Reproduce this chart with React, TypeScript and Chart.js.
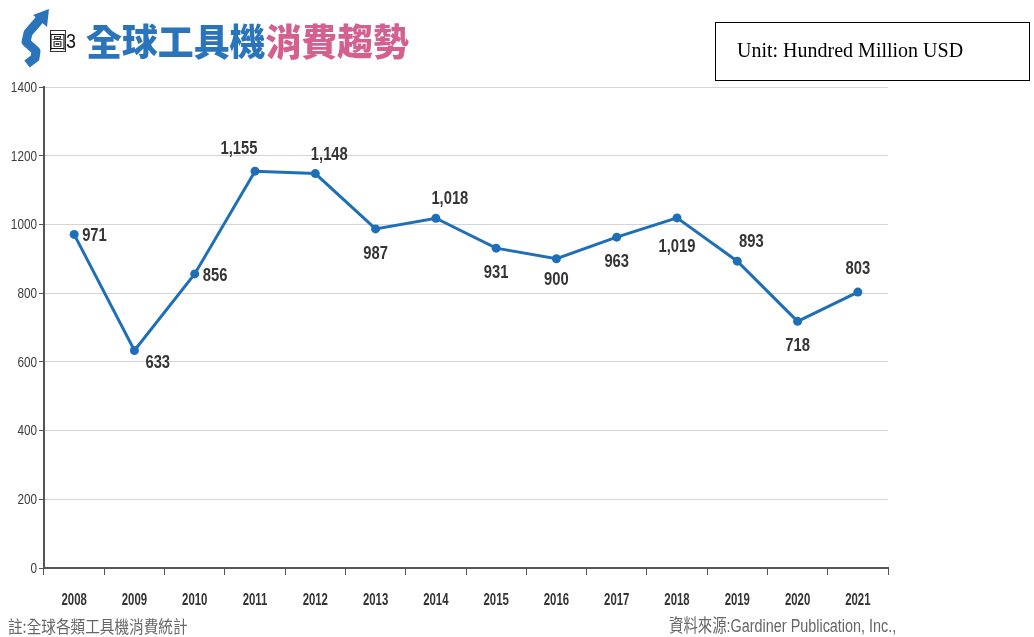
import React, { useEffect, useRef } from "react";
import { Chart, registerables } from "chart.js";

Chart.register(...registerables);

const years = ["2008", "2009", "2010", "2011", "2012", "2013", "2014", "2015", "2016", "2017", "2018", "2019", "2020", "2021"];
const consumption = [971, 633, 856, 1155, 1148, 987, 1018, 931, 900, 963, 1019, 893, 718, 803];
const yTickValues = [0, 200, 400, 600, 800, 1000, 1200, 1400];
const labelPlacement = ["right", "belowRight", "right", "aboveLeft", "aboveRight", "below", "aboveRight", "below", "belowNear", "below", "belowFar", "aboveRight", "below", "above"];

const titleBlue = "全球工具機";
const titlePink = "消費趨勢";
const unitText = "Unit: Hundred Million USD";
const noteText = "註:全球各類工具機消費統計";
const sourceText = "資料來源:Gardiner Publication, Inc.,";

const SANS = "'Liberation Sans', Arial, sans-serif";
const CJK = "'Noto Sans CJK TC', sans-serif";

const placementStyle: Record<string, [number, number, CanvasTextAlign]> = {
  right: [8, 2, "left"],
  belowRight: [11, 13, "left"],
  aboveLeft: [-16, -22, "center"],
  aboveRight: [14, -19, "center"],
  below: [0, 25, "center"],
  belowNear: [0, 21, "center"],
  belowFar: [0, 29, "center"],
  above: [0, -23, "center"],
};

function narrowText(ctx: CanvasRenderingContext2D, text: string, x: number, y: number, align: CanvasTextAlign, sx: number) {
  ctx.save();
  ctx.translate(x, y);
  ctx.scale(sx, 1);
  ctx.textAlign = align;
  ctx.fillText(text, 0, 0);
  ctx.restore();
}

const valueLabels = {
  id: "valueLabels",
  afterDatasetsDraw(chart: any) {
    const ctx = chart.ctx;
    const meta = chart.getDatasetMeta(0);
    ctx.save();
    ctx.font = `bold 18px ${SANS}`;
    ctx.fillStyle = "#353535";
    ctx.textBaseline = "middle";
    meta.data.forEach((pt: any, i: number) => {
      const [dx, dy, align] = placementStyle[labelPlacement[i]] || placementStyle.above;
      narrowText(ctx, consumption[i].toLocaleString("en-US"), pt.x + dx, pt.y + dy, align, 0.82);
    });
    ctx.restore();
  },
};

const narrowTicks = {
  id: "narrowTicks",
  afterDraw(chart: any) {
    const ctx = chart.ctx;
    const xs = chart.scales.x;
    const ys = chart.scales.y;
    ctx.save();
    ctx.textBaseline = "middle";
    ctx.font = `bold 16px ${SANS}`;
    ctx.fillStyle = "#333333";
    xs.ticks.forEach((t: any, i: number) => {
      narrowText(ctx, String(xs.getLabelForValue(t.value)), xs.getPixelForTick(i), xs.top + 33, "center", 0.71);
    });
    ctx.font = `14px ${SANS}`;
    ctx.fillStyle = "#3c3c3c";
    ys.ticks.forEach((t: any, i: number) => {
      narrowText(ctx, String(t.value), ys.right - 7, ys.getPixelForTick(i) + 1, "right", 0.84);
    });
    ctx.restore();
  },
};

function ChartCanvas() {
  const ref = useRef<HTMLCanvasElement | null>(null);
  useEffect(() => {
    if (!ref.current) return;
    const chart = new Chart(ref.current, {
      type: "line",
      data: {
        labels: years,
        datasets: [
          {
            data: consumption,
            borderColor: "#1f6fb8",
            backgroundColor: "#1f6fb8",
            borderWidth: 3,
            pointRadius: 4.5,
            pointBackgroundColor: "#1f6fb8",
            pointBorderWidth: 0,
            tension: 0,
          },
        ],
      },
      options: {
        animation: false,
        responsive: false,
        maintainAspectRatio: false,
        devicePixelRatio: 1,
        layout: { padding: { top: 87, right: 146, left: 0, bottom: 0 } },
        plugins: { legend: { display: false }, tooltip: { enabled: false }, title: { display: false } },
        scales: {
          x: {
            offset: true,
            grid: { display: true, drawOnChartArea: false, drawTicks: true, tickLength: 7, tickColor: "#555555", offset: true },
            border: { display: true, color: "#555555", width: 2 },
            ticks: { color: "rgba(0,0,0,0)", font: { family: SANS, size: 14, weight: "bold" }, padding: 20, maxRotation: 0, autoSkip: false },
            afterFit: (scale: any) => {
              scale.height = 69;
            },
          },
          y: {
            min: 0,
            max: 1400,
            afterBuildTicks: (scale: any) => {
              scale.ticks = yTickValues.map((v) => ({ value: v }));
            },
            grid: { color: "#d4d4d4", lineWidth: 1, tickLength: 5, tickColor: "#555555" },
            border: { display: true, color: "#555555", width: 2 },
            ticks: { color: "rgba(0,0,0,0)", font: { family: SANS, size: 12 }, padding: 3, callback: (v: any) => String(v) },
            afterFit: (scale: any) => {
              scale.width = 44;
            },
          },
        },
      },
      plugins: [valueLabels, narrowTicks],
    });
    return () => chart.destroy();
  }, []);
  return <canvas ref={ref} width={1034} height={637} style={{ position: "absolute", left: 0, top: 0, width: 1034, height: 637 }} />;
}

export default function App() {
  return (
    <div style={{ position: "fixed", left: 0, top: 0, width: 1034, height: 637, background: "#ffffff", overflow: "hidden" }}>
      <ChartCanvas />
      <svg width={60} height={72} style={{ position: "absolute", left: 0, top: 0 }} viewBox="0 0 60 72">
        <path d="M41 18 L28 33 L26 42 L36 51 L35 58 L27 64" fill="none" stroke="#2a74bb" strokeWidth={9} strokeLinejoin="round" strokeLinecap="butt" />
        <polygon points="49,9 47,27 33,15" fill="#2a74bb" />
      </svg>
      <div style={{ position: "absolute", left: 50, top: 30, width: 16, height: 22, border: "1px solid #333", boxSizing: "border-box" }} />
      <div style={{ position: "absolute", left: 49, top: 29, fontFamily: CJK, fontSize: 17, color: "#111", lineHeight: "24px", whiteSpace: "nowrap" }}>
        圖<span style={{ fontFamily: SANS, fontSize: 21, display: "inline-block", transform: "scaleX(0.85)", transformOrigin: "left center" }}>3</span>
      </div>
      <div style={{ position: "absolute", left: 86, top: 12, fontFamily: CJK, fontWeight: 900, fontSize: 37, lineHeight: "56px", whiteSpace: "nowrap", transform: "scaleX(0.97)", transformOrigin: "left top" }}>
        <span style={{ color: "#2a74bb" }}>{titleBlue}</span>
        <span style={{ color: "#d4608f" }}>{titlePink}</span>
      </div>
      <div
        style={{
          position: "absolute",
          left: 715,
          top: 22,
          width: 315,
          height: 59,
          border: "1px solid #000",
          fontFamily: "'Liberation Serif', 'Times New Roman', serif",
          fontSize: 20,
          color: "#000",
          lineHeight: "55px",
          paddingLeft: 21,
          boxSizing: "border-box",
          whiteSpace: "nowrap",
        }}
      >
        {unitText}
      </div>
      <div style={{ position: "absolute", left: 8, top: 615, fontFamily: CJK, fontSize: 17, color: "#666", lineHeight: "22px", whiteSpace: "nowrap", transform: "scaleX(0.86)", transformOrigin: "left top" }}>
        {noteText}
      </div>
      <div style={{ position: "absolute", left: 669, top: 615, fontFamily: `${SANS.replace("sans-serif", "")} ${CJK}`, fontSize: 18, color: "#666", lineHeight: "22px", whiteSpace: "nowrap", transform: "scaleX(0.8)", transformOrigin: "left top" }}>
        {sourceText}
      </div>
    </div>
  );
}
